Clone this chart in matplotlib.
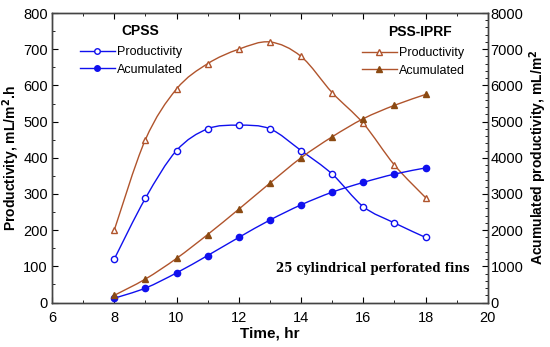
import numpy as np
import matplotlib
matplotlib.use("Agg")
import matplotlib.pyplot as plt
from matplotlib.path import Path
from matplotlib.patches import PathPatch
from matplotlib.lines import Line2D
from matplotlib.ticker import MultipleLocator

plt.rcParams['font.family'] = ['Liberation Sans', 'DejaVu Sans']

# data
hours = [8, 9, 10, 11, 12, 13, 14, 15, 16, 17, 18]
cpss_prod = [120, 288, 420, 480, 490, 480, 420, 355, 265, 220, 180]
cpss_acc = [120, 400, 820, 1300, 1800, 2280, 2700, 3050, 3320, 3550, 3720]
pss_prod = [200, 450, 590, 660, 700, 720, 680, 580, 495, 380, 290]
pss_acc = [200, 650, 1220, 1880, 2580, 3300, 4000, 4580, 5080, 5450, 5750]

blue = '#1010ee'
brown = '#b0542c'
dark_brown = '#8b4a12'


# smooth line through the points (catmull-rom as bezier path)
def smooth_path(ax, x, y, color):
    x = np.asarray(x, float)
    y = np.asarray(y, float)
    verts = [(x[0], y[0])]
    codes = [Path.MOVETO]
    n = len(x)
    for i in range(n - 1):
        x0, y0 = (x[i - 1], y[i - 1]) if i > 0 else (x[i], y[i])
        x3, y3 = (x[i + 2], y[i + 2]) if i + 2 < n else (x[i + 1], y[i + 1])
        c1 = (x[i] + (x[i + 1] - x0) / 6, y[i] + (y[i + 1] - y0) / 6)
        c2 = (x[i + 1] - (x3 - x[i]) / 6, y[i + 1] - (y3 - y[i]) / 6)
        verts += [c1, c2, (x[i + 1], y[i + 1])]
        codes += [Path.CURVE4] * 3
    ax.add_patch(PathPatch(Path(verts, codes), fill=False, edgecolor=color, lw=1.0, zorder=2))


fig = plt.figure(figsize=(5.5, 3.47), dpi=100)
ax = fig.add_axes([0.0945, 0.128, 0.7925, 0.8345])
ax2 = ax.twinx()

smooth_path(ax, hours, cpss_prod, blue)
smooth_path(ax, hours, pss_prod, brown)
smooth_path(ax2, hours, cpss_acc, blue)
smooth_path(ax2, hours, pss_acc, brown)

ax.plot(hours, cpss_prod, 'o', ms=4.5, mfc='white', mec=blue, mew=1, zorder=3)
ax.plot(hours, pss_prod, '^', ms=5, mfc='white', mec=brown, mew=1, zorder=3)
ax2.plot(hours, cpss_acc, 'o', ms=4.5, mfc=blue, mec=blue, zorder=3)
ax2.plot(hours, pss_acc, '^', ms=5, mfc=dark_brown, mec=dark_brown, zorder=3)

ax.set_xlim(6, 20)
ax.set_ylim(0, 800)
ax2.set_ylim(0, 8000)
ax.xaxis.set_major_locator(MultipleLocator(2))
ax.xaxis.set_minor_locator(MultipleLocator(1))
ax.yaxis.set_major_locator(MultipleLocator(100))
ax.yaxis.set_minor_locator(MultipleLocator(50))
ax2.yaxis.set_major_locator(MultipleLocator(1000))
ax2.yaxis.set_minor_locator(MultipleLocator(200))

ax.tick_params(which='both', direction='in', top=True, labelsize=10.5)
ax.tick_params(which='major', length=4)
ax.tick_params(which='minor', length=2)
ax.tick_params(axis='x', pad=6)
ax.tick_params(axis='y', pad=3)
ax2.tick_params(which='both', direction='in', labelsize=10.5, pad=2)
ax2.tick_params(which='major', length=4)
ax2.tick_params(which='minor', length=2)
for a in (ax, ax2):
    for s in a.spines.values():
        s.set_color('#444444')
        s.set_linewidth(1.0)

ax.set_xlabel('Time, hr', fontsize=11, fontweight='bold', labelpad=1)
ax.set_ylabel('Productivity, mL/m$^\\mathbf{2}$.h', fontsize=10, fontweight='bold', labelpad=1)
ax2.set_ylabel('Acumulated productivity, mL/m$^\\mathbf{2}$', fontsize=10, fontweight='bold', labelpad=3)

h1 = [Line2D([], [], color=blue, lw=1, marker='o', ms=4, mfc='white', mec=blue),
      Line2D([], [], color=blue, lw=1, marker='o', ms=4, mfc=blue, mec=blue)]
h2 = [Line2D([], [], color=brown, lw=1, marker='^', ms=4, mfc='white', mec=brown),
      Line2D([], [], color=brown, lw=1, marker='^', ms=4, mfc=dark_brown, mec=dark_brown)]
leg_kw = dict(loc='upper left', frameon=False, fontsize=9, borderpad=0, borderaxespad=0,
              handlelength=2.8, handletextpad=0.15, labelspacing=0.45)
leg1 = ax2.legend(h1, ['Productivity', 'Acumulated'], bbox_to_anchor=(0.064, 0.886), **leg_kw)
ax2.add_artist(leg1)
ax2.legend(h2, ['Productivity', 'Acumulated'], bbox_to_anchor=(0.711, 0.883), **leg_kw)

ax.text(0.202, 0.938, 'CPSS', transform=ax.transAxes, ha='center', va='center',
        fontsize=10, fontweight='bold')
ax.text(0.844, 0.934, 'PSS-IPRF', transform=ax.transAxes, ha='center', va='center',
        fontsize=10, fontweight='bold')

ax.text(16.3, 95, '25 cylindrical perforated fins', ha='center', va='center',
        fontsize=8.5, fontweight='bold', family='DejaVu Serif')

fig.savefig('out.png', dpi=100)
